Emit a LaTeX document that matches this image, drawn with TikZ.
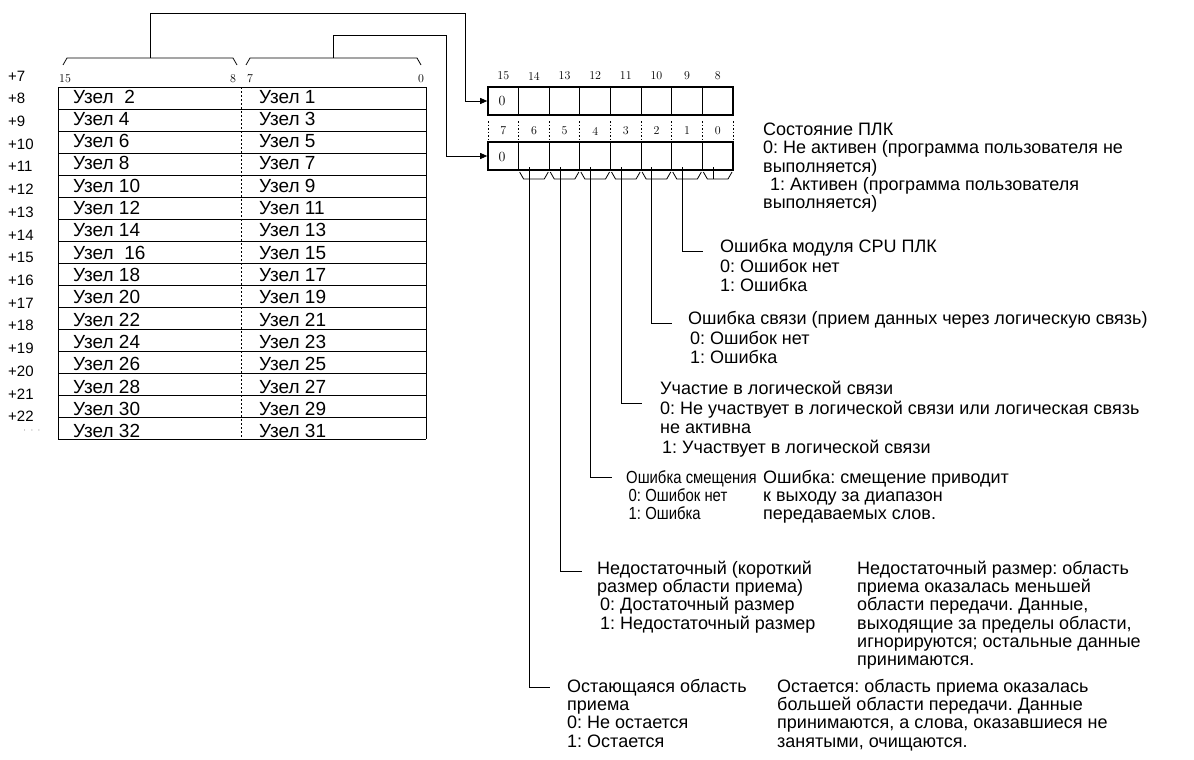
\documentclass[tikz,border=0pt]{standalone}
\usepackage{fontspec}
\newfontfamily\sansf{Liberation Sans}
\usetikzlibrary{arrows.meta}
\begin{document}
\begin{tikzpicture}[x=1pt,y=-1pt,
  ln/.style={line width=0.8pt},
  boxln/.style={line width=1.6pt},
  arr/.style={ln,-{Triangle[length=7pt,width=6pt]}},
  desc/.style={font=\sansf\frenchspacing\fontsize{18}{18.2}\selectfont, align=left, anchor=north west, inner sep=0pt},
  descw/.style={desc, font=\sansf\frenchspacing\fontsize{18}{19.6}\selectfont},
  descn/.style={desc, font=\sansf\frenchspacing\fontsize{17.5}{18.4}\selectfont, xscale=0.85, transform shape},
  uzel/.style={font=\sansf\fontsize{19}{19}\selectfont, anchor=base west, inner sep=0pt},
  rowlab/.style={font=\sansf\fontsize{15}{15}\selectfont, anchor=west, inner sep=0pt},
  bitnum/.style={font=\fontsize{12}{12}\selectfont, inner sep=0pt},
  zero/.style={font=\fontsize{14}{14}\selectfont, inner sep=0pt},
  dotsep/.style={line width=0.8pt, dash pattern=on 1.5pt off 2pt},
]
\fill[white] (0,0) rectangle (1194,760);
\useasboundingbox (0,0) rectangle (1194,760);

% ---------- table ----------
\foreach \k in {0,...,16} { \draw[ln] (58,{87+22*\k}) -- (426,{87+22*\k}); }
\draw[ln] (58,87) -- (58,439);
\draw[ln] (426,87) -- (426,439);
\draw[ln, dash pattern=on 2pt off 2pt] (241,87) -- (241,439);

\foreach \k/\l/\r in {0/{Узел\ \ 2}/{Узел 1}, 1/{Узел 4}/{Узел 3}, 2/{Узел 6}/{Узел 5},
  3/{Узел 8}/{Узел 7}, 4/{Узел 10}/{Узел 9}, 5/{Узел 12}/{Узел 11}, 6/{Узел 14}/{Узел 13},
  7/{Узел\ \ 16}/{Узел 15}, 8/{Узел 18}/{Узел 17}, 9/{Узел 20}/{Узел 19}, 10/{Узел 22}/{Узел 21},
  11/{Узел 24}/{Узел 23}, 12/{Узел 26}/{Узел 25}, 13/{Узел 28}/{Узел 27}, 14/{Узел 30}/{Узел 29},
  15/{Узел 32}/{Узел 31}}
{ \node[uzel] (L\k) at (73,{103+22.33*\k}) {\l};
  \node[uzel] (R\k) at (259,{103+22.33*\k}) {\r}; }

\foreach \k in {0,...,15} { \pgfmathtruncatemacro{\w}{\k+7}
  \node[rowlab] (lab\k) at (8,{76+22.7*\k}) {+\w}; }
\node[font=\fontsize{8}{8}\selectfont, inner sep=0] (dots) at (32,431) {$\cdot\ \cdot\ \cdot$};

% header
\node[bitnum] (h15) at (65,79) {15};
\node[bitnum] (h8) at (233,79) {8};
\node[bitnum] (h7) at (250,79) {7};
\node[bitnum] (h0) at (421,79) {0};

% braces over table
\draw[ln] (63,65) -- (67,58) -- (233,58) -- (237,65);
\draw[ln] (246,65) -- (250,58) -- (417,58) -- (421,65);
\coordinate (bh) at (150,58);
\coordinate (bl) at (333,58);

% ---------- registers ----------
\node[draw, boxln, minimum width=245pt, minimum height=28pt, inner sep=0] (regH) at (610.5,101) {};
\node[draw, boxln, minimum width=245pt, minimum height=28pt, inner sep=0] (regL) at (610.5,156) {};
\foreach \i in {1,2,3,5,6,7} {
  \draw[ln] ({488+30.625*\i},87) -- ({488+30.625*\i},115);
  \draw[ln] ({488+30.625*\i},142) -- ({488+30.625*\i},170); }
\draw[boxln] ({488+30.625*4},87) -- ({488+30.625*4},115);
\draw[boxln] ({488+30.625*4},142) -- ({488+30.625*4},170);
\node[zero] (zH) at (502,101) {0};
\node[zero] (zL) at (502,157) {0};

\foreach \i in {0,...,7} { \pgfmathtruncatemacro{\hb}{15-\i} \pgfmathtruncatemacro{\lb}{7-\i}
  \node[bitnum] (t\i) at ({488+30.625*(\i+0.5)},76) {\hb};
  \node[bitnum] (u\i) at ({488+30.625*(\i+0.5)},131) {\lb}; }
\foreach \i in {0,...,8} { \draw[dotsep] ({488+30.625*\i},121) -- ({488+30.625*\i},139); }

\draw[arr] (bh) |- (465,13) |- (regH.west);
\draw[arr] (bl) |- (446,35) |- (regL.west);

% small braces under the lower register
\foreach \i in {1,...,7} {
  \draw[ln] ({488+30.625*\i+1},172) -- ({488+30.625*\i+5},179) -- ({488+30.625*(\i+1)-5},179) -- ({488+30.625*(\i+1)-1},172); }

% stems
\coordinate (s0) at (713,167);
\coordinate (s1) at (682.4,167);
\coordinate (s2) at (651.8,167);
\coordinate (s3) at (621.1,167);
\coordinate (s4) at (590.5,167);
\coordinate (s5) at (559.9,167);
\coordinate (s6) at (529.2,167);
\coordinate (e0) at (713,179);
\coordinate (e1) at (703,251);
\coordinate (e2) at (672,323);
\coordinate (e3) at (642,403);
\coordinate (e4) at (612,477);
\coordinate (e5) at (582,571);
\coordinate (e6) at (550,687);
\draw[ln] (s0) -- (e0);
\foreach \j in {1,...,6} { \draw[ln] (s\j) |- (e\j); }

% ---------- descriptions ----------
\node[desc] (d0) at (763,123) {Состояние ПЛК\\0: Не активен (программа пользователя не\\выполняется)\\\hspace*{7pt}1: Активен (программа пользователя\\выполняется)};
\node[descw] (d1) at (720,239) {Ошибка модуля CPU ПЛК\\0: Ошибок нет\\1: Ошибка};
\node[descw] (d2) at (688,311) {Ошибка связи (прием данных через логическую связь)\\\hspace*{2pt}0: Ошибок нет\\\hspace*{2pt}1: Ошибка};
\node[descw] (d3) at (660,381) {Участие в логической связи\\0: Не участвует в логической связи или логическая связь\\не активна\\\hspace*{2pt}1: Участвует в логической связи};
\node[descn] (d4) at (626,470) {Ошибка смещения\\\hspace*{3pt}0: Ошибок нет\\\hspace*{3pt}1: Ошибка};
\node[desc] (d4r) at (763,470) {Ошибка: смещение приводит\\к выходу за диапазон\\передаваемых слов.};
\node[desc] (d5) at (597,561) {Недостаточный (короткий\\размер области приема)\\\hspace*{3pt}0: Достаточный размер\\\hspace*{3pt}1: Недостаточный размер};
\node[desc] (d5r) at (857,561) {Недостаточный размер: область\\приема оказалась меньшей\\области передачи. Данные,\\выходящие за пределы области,\\игнорируются; остальные данные\\принимаются.};
\node[desc] (d6) at (567,679) {Остающаяся область\\приема\\0: Не остается\\1: Остается};
\node[desc] (d6r) at (777,679) {Остается: область приема оказалась\\большей области передачи. Данные\\принимаются, а слова, оказавшиеся не\\занятыми, очищаются.};
\end{tikzpicture}
\end{document}
